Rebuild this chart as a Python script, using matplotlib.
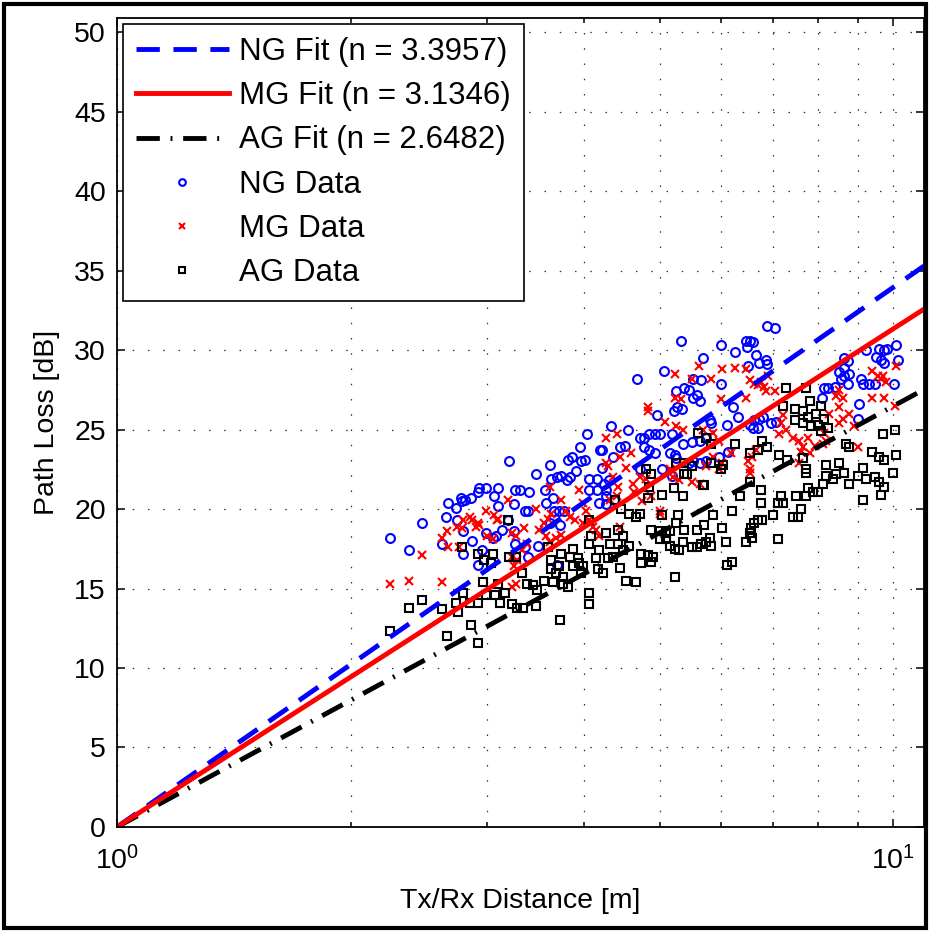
import numpy as np
import matplotlib
matplotlib.use("Agg")
import matplotlib.pyplot as plt
from matplotlib.patches import Rectangle
from matplotlib.ticker import LogLocator, NullFormatter

# ======================= DATA =======================
FIT_EXPONENTS = {"NG": 3.3957, "MG": 3.1346, "AG": 2.6482}

NG_DIST = [
    2.25, 2.38, 2.47, 2.62, 2.65, 2.67, 2.73, 2.77, 2.78, 2.81,
    2.86, 2.74, 2.79, 2.79, 2.87, 2.92, 2.93, 2.99, 3.06, 3.10,
    3.10, 3.20, 3.19, 3.13, 2.99, 2.95, 2.92, 3.08, 3.26, 3.30,
    3.39, 3.25, 3.35, 3.38, 3.25, 3.26, 3.35, 3.47, 3.56, 3.57,
    3.64, 3.61, 3.62, 3.69, 3.73, 3.80, 3.83, 3.81, 3.86, 3.95,
    4.03, 4.33, 4.19, 3.96, 4.01, 3.90, 4.06, 4.15, 4.21, 4.30,
    4.05, 4.15, 4.26, 3.65, 3.71, 3.77, 3.61, 3.72, 4.27, 4.37,
    3.38, 3.49, 3.69, 3.05,
    5.33, 6.88, 7.04, 6.00, 6.25, 6.45, 6.53, 6.59, 6.47, 6.65,
    6.72, 6.85, 6.87, 6.50, 5.69, 5.06, 5.66, 5.52, 6.00, 5.25,
    5.37, 5.45, 5.58, 5.52, 5.64, 5.26, 5.35, 5.21, 4.96, 6.22,
    6.31, 6.10, 5.82, 5.80, 6.61, 6.72, 6.79, 6.53, 6.59, 6.69,
    7.06, 6.96, 9.22, 9.58, 9.74, 9.80, 10.07, 10.13, 9.50, 9.64,
    9.74, 8.64, 8.75, 8.63, 8.52, 8.65, 8.78, 8.55, 8.75, 8.14,
    8.25, 8.42, 9.09, 9.13, 9.31, 9.46, 10.01, 8.10, 9.04, 9.01,
    4.71, 4.78, 4.85, 4.93, 5.00, 5.18, 5.36, 5.50, 5.63, 5.74,
    5.15, 5.23, 5.52, 5.63, 5.97, 6.12, 5.03, 4.67, 4.55, 4.21,
    4.35, 4.44, 4.51, 4.24, 4.27, 4.18, 4.78, 4.85, 4.93, 5.25,
    4.71, 5.18, 5.45, 5.74,
]
NG_LOSS = [
    18.2, 17.4, 19.1, 17.8, 19.5, 20.4, 20.1, 20.7, 20.5, 20.6,
    20.7, 19.3, 18.6, 17.2, 18.0, 21.1, 21.3, 21.3, 20.8, 21.3,
    20.2, 23.0, 19.3, 18.7, 18.5, 17.4, 16.5, 18.3, 21.2, 21.2,
    21.1, 20.3, 19.9, 19.9, 18.6, 17.8, 17.6, 22.2, 21.2, 20.4,
    20.7, 22.8, 21.9, 22.0, 22.1, 21.8, 22.0, 23.1, 23.3, 23.9,
    24.7, 25.2, 23.7, 23.0, 23.1, 22.4, 21.9, 21.9, 22.6, 21.8,
    21.2, 21.2, 21.2, 19.9, 19.9, 19.9, 19.1, 19.0, 20.3, 20.6,
    17.0, 17.7, 16.5, 18.2,
    30.6, 31.5, 31.4, 30.3, 29.9, 30.6, 30.6, 30.5, 30.2, 29.7,
    29.2, 29.4, 29.1, 29.0, 29.5, 28.7, 28.1, 28.2, 27.9, 27.4,
    27.6, 27.5, 27.2, 27.0, 26.8, 26.4, 26.3, 26.2, 25.9, 26.4,
    25.8, 25.3, 25.4, 25.6, 25.6, 25.7, 25.8, 25.3, 25.1, 25.1,
    25.5, 25.4, 30.0, 30.1, 30.0, 30.1, 30.3, 29.4, 29.6, 29.4,
    29.2, 29.5, 29.3, 28.9, 28.6, 28.4, 28.5, 28.2, 27.9, 27.6,
    27.6, 27.7, 28.2, 27.9, 27.9, 27.9, 27.9, 27.0, 26.6, 25.7,
    24.5, 24.5, 24.7, 24.7, 24.7, 24.7, 24.1, 24.2, 24.3, 24.5,
    23.5, 23.4, 23.0, 22.9, 23.3, 23.6, 22.5, 28.2, 25.0, 23.7,
    23.3, 23.9, 24.0, 21.6, 20.8, 20.4, 23.9, 23.7, 23.5, 23.2,
    22.5, 22.1, 22.9, 23.0,
]

MG_DIST = [
    2.25, 2.38, 2.47, 2.62, 2.62, 2.66, 2.67, 2.74, 2.76, 2.79,
    2.78, 2.85, 2.87, 2.92, 2.90, 2.93, 2.99, 3.06, 3.09, 3.10,
    3.00, 3.05, 3.19, 3.23, 3.27, 3.34, 3.23, 3.28, 3.25, 3.27,
    3.23, 3.32, 3.37, 3.46, 3.50, 3.55, 3.59, 3.62, 3.57, 3.61,
    3.68, 3.73, 3.61, 3.73, 3.79, 3.83, 3.89, 3.94, 3.98, 4.02,
    4.06, 3.98, 4.10, 4.18, 4.14, 4.29, 4.35, 4.42, 4.31, 4.40,
    5.62, 6.02, 6.26, 6.45, 5.23, 5.50, 5.83, 6.53, 6.61, 6.69,
    6.75, 6.82, 6.89, 6.85, 7.03, 5.24, 5.33, 6.00, 6.45, 4.83,
    4.83, 5.08, 5.25, 5.36, 5.69, 5.85, 5.97, 7.20, 7.28, 7.13,
    7.42, 7.57, 7.76, 7.64, 7.61, 7.80, 8.15, 8.19, 8.52, 8.44,
    8.61, 8.52, 8.78, 8.27, 8.52, 9.40, 9.55, 9.64, 9.79, 9.69,
    10.07, 9.40, 9.74, 10.04, 9.00, 8.61, 8.91, 7.92, 8.12, 4.27,
    4.40, 4.27, 4.44, 4.59, 4.53, 4.62, 4.71, 4.80, 4.64, 4.75,
    4.87, 5.00, 5.15, 5.20, 5.30, 5.50, 5.63, 5.74, 5.85, 6.02,
    6.18, 5.97, 6.49, 6.58, 6.53, 6.66, 7.17, 7.57, 4.44, 5.00,
    6.53,
]
MG_LOSS = [
    15.3, 15.5, 17.1, 15.4, 18.2, 18.6, 17.6, 18.9, 17.6, 19.3,
    18.8, 19.5, 19.3, 19.1, 18.9, 19.0, 19.9, 19.6, 19.3, 19.4,
    18.3, 18.1, 20.6, 18.5, 18.3, 18.8, 17.0, 16.8, 16.4, 15.3,
    15.1, 17.4, 17.8, 20.0, 18.7, 19.1, 19.4, 19.7, 18.3, 17.9,
    18.2, 18.4, 21.4, 20.6, 19.9, 19.5, 19.3, 21.2, 20.4, 19.9,
    19.3, 19.1, 18.9, 18.3, 18.7, 22.7, 22.0, 21.4, 20.6, 20.8,
    29.0, 28.8, 28.9, 28.8, 28.5, 28.2, 28.2, 28.1, 27.9, 27.8,
    28.0, 27.7, 28.4, 27.4, 27.4, 27.0, 26.9, 26.9, 27.0, 26.4,
    26.2, 25.5, 25.2, 25.0, 25.0, 24.8, 24.3, 25.9, 25.0, 24.7,
    24.5, 24.3, 24.5, 23.9, 23.6, 23.5, 24.8, 24.3, 27.5, 27.1,
    27.0, 26.4, 26.0, 26.0, 25.4, 28.7, 28.4, 28.2, 28.0, 28.4,
    29.0, 27.0, 27.0, 26.5, 23.9, 25.7, 25.2, 24.0, 24.1, 24.5,
    24.7, 22.9, 23.3, 23.5, 22.6, 21.6, 22.0, 21.9, 21.1, 20.5,
    20.8, 19.9, 22.5, 22.0, 21.8, 21.7, 21.6, 22.7, 23.3, 22.9,
    23.5, 22.5, 23.0, 23.3, 22.5, 23.7, 25.4, 22.9, 18.9, 19.7,
    22.3,
]

AG_DIST = [
    2.25, 2.38, 2.47, 2.62, 2.66, 2.73, 2.75, 2.78, 2.79, 2.85,
    2.92, 2.86, 2.92, 2.92, 2.97, 3.05, 3.03, 2.96, 2.99, 3.07,
    3.10, 3.11, 3.16, 3.19, 3.20, 3.27, 3.32, 3.23, 3.28, 3.33,
    3.37, 3.43, 3.48, 3.46, 3.59, 3.62, 3.62, 3.68, 3.71, 3.75,
    3.55, 3.64, 3.72, 3.73, 3.83, 3.87, 3.75, 3.81, 3.87, 3.94,
    3.98, 4.05, 4.08, 4.06, 4.06, 4.06, 4.18, 4.27, 4.31, 4.35,
    4.42, 4.16, 4.23, 3.96, 3.92, 4.14, 4.29, 4.49, 4.57, 4.44,
    4.53, 4.66, 4.42, 4.49, 4.57, 4.66, 4.71, 4.73, 4.83, 4.90,
    4.73, 4.87, 4.87, 5.00, 5.10, 5.15, 5.00, 5.10, 5.15, 5.23,
    5.30, 5.36, 5.03, 5.28, 5.38, 5.58, 5.71, 5.25, 5.50, 5.58,
    5.66, 5.74, 5.82, 5.80, 5.23, 5.86, 5.71, 4.83, 5.03, 5.21,
    5.36, 5.38, 5.68, 6.02, 6.08, 6.20, 6.11, 6.20, 6.34, 6.53,
    6.75, 6.75, 6.45, 6.53, 6.56, 6.62, 6.69, 6.78, 6.58, 7.10,
    7.00, 7.10, 7.17, 7.20, 7.42, 7.53, 7.61, 7.50, 7.72, 7.76,
    7.87, 7.99, 7.72, 8.11, 8.19, 8.35, 8.44, 8.65, 8.78, 9.00,
    9.13, 9.22, 9.46, 9.59, 9.64, 9.74, 9.98, 7.28, 7.72, 7.20,
    7.46, 7.64, 7.80, 8.07, 7.95, 8.15, 7.76, 7.46, 7.64, 7.83,
    7.99, 8.07, 8.23, 6.26, 6.53, 6.69, 6.78, 6.88, 7.13, 7.30,
    7.64, 7.72, 8.19, 8.52, 8.69, 8.78, 9.13, 9.40, 9.59, 9.74,
    9.69, 10.04, 10.09, 5.61, 5.74, 5.82, 5.25, 5.38, 5.50, 5.42,
    5.82, 6.04, 5.99, 4.80, 4.87, 4.85, 4.38, 4.46,
]
AG_LOSS = [
    12.3, 13.8, 14.3, 13.7, 12.0, 14.1, 13.5, 17.6, 14.7, 14.1,
    14.1, 12.7, 11.6, 17.2, 16.8, 17.2, 16.6, 15.4, 14.6, 14.6,
    15.3, 14.1, 14.7, 19.3, 17.0, 17.0, 16.0, 14.0, 13.8, 13.8,
    15.3, 15.2, 14.9, 13.9, 17.6, 16.8, 16.2, 16.0, 16.4, 15.7,
    15.5, 15.4, 13.0, 17.2, 17.0, 17.5, 15.3, 15.1, 16.4, 16.6,
    16.4, 19.3, 18.3, 17.8, 14.7, 14.0, 17.4, 18.5, 17.8, 17.0,
    17.8, 16.2, 16.0, 16.0, 16.9, 16.9, 16.9, 17.4, 17.7, 16.3,
    15.5, 15.4, 18.7, 18.3, 19.7, 19.5, 19.7, 17.2, 17.1, 17.0,
    16.6, 16.7, 18.7, 18.6, 18.5, 18.6, 18.1, 18.1, 17.7, 17.5,
    17.4, 17.9, 19.6, 19.6, 18.7, 18.7, 19.0, 19.1, 17.6, 17.6,
    17.8, 17.9, 17.7, 18.2, 15.7, 19.6, 21.5, 20.7, 20.9, 21.3,
    20.8, 22.2, 21.5, 18.8, 17.9, 19.9, 16.5, 16.7, 20.8, 21.7,
    21.2, 20.4, 17.9, 18.5, 18.8, 19.1, 19.3, 19.3, 18.2, 18.1,
    19.6, 20.4, 20.8, 20.4, 19.5, 19.5, 20.0, 20.8, 20.8, 21.3,
    21.1, 21.1, 22.3, 21.6, 22.1, 21.9, 22.2, 22.3, 21.6, 22.1,
    20.6, 21.9, 22.0, 21.7, 20.9, 21.4, 22.3, 27.6, 27.6, 26.5,
    26.3, 26.2, 26.8, 26.5, 26.0, 25.7, 25.8, 25.6, 25.4, 25.2,
    25.3, 24.9, 25.1, 24.1, 23.5, 23.7, 24.3, 23.9, 23.4, 23.1,
    23.2, 22.5, 22.8, 22.9, 24.1, 23.9, 22.6, 23.6, 23.3, 23.1,
    24.7, 25.0, 23.4, 24.8, 24.5, 24.1, 22.9, 22.9, 22.7, 22.2,
    22.9, 22.8, 22.5, 22.5, 22.2, 21.4, 20.6, 20.0,
]

X_LIMITS = (1, 10.95)
Y_LIMITS = (0, 50.9)
Y_TICKS = [0, 5, 10, 15, 20, 25, 30, 35, 40, 45, 50]

# ======================= STYLE =======================
plt.rcParams["font.family"] = ["Liberation Sans", "DejaVu Sans"]
plt.rcParams["mathtext.fontset"] = "custom"
plt.rcParams["mathtext.rm"] = "Liberation Sans"
plt.rcParams["mathtext.default"] = "regular"

TICK_FONT_SIZE = 20.5
LABEL_FONT_SIZE = 20.5
LEGEND_FONT_SIZE = 22.5
FIT_LW = 3.5

fig = plt.figure(figsize=(9.30, 9.32), dpi=100)
ax = fig.add_axes([0.1258, 0.1127, 0.8677, 0.868])

# fitted path loss lines: PL = 10 n log10(d)
d_fit = np.logspace(0, np.log10(X_LIMITS[1]), 200)
ax.plot(d_fit, 10 * FIT_EXPONENTS["NG"] * np.log10(d_fit), color="#0000ff",
        lw=FIT_LW, ls=(0, (4.8, 2.8)), zorder=5,
        label=f"NG Fit (n = {FIT_EXPONENTS['NG']:.4f})")
ax.plot(d_fit, 10 * FIT_EXPONENTS["MG"] * np.log10(d_fit), color="#ff0000",
        lw=FIT_LW, ls="-", zorder=6,
        label=f"MG Fit (n = {FIT_EXPONENTS['MG']:.4f})")
ax.plot(d_fit, 10 * FIT_EXPONENTS["AG"] * np.log10(d_fit), color="black",
        lw=FIT_LW, ls=(0, (4.8, 2.2, 0.4, 2.2)), zorder=5,
        label=f"AG Fit (n = {FIT_EXPONENTS['AG']:.4f})")

# measured data
ax.plot(NG_DIST, NG_LOSS, ls="none", marker="o", ms=6.4, mfc="none",
        mec="#0000ff", mew=1.5, zorder=3, label="NG Data")
ax.plot(MG_DIST, MG_LOSS, ls="none", marker="x", ms=5.6,
        mec="#ff0000", mew=1.5, zorder=3, label="MG Data")
ax.plot(AG_DIST, AG_LOSS, ls="none", marker="s", ms=5.2, mfc="none",
        mec="black", mew=1.5, zorder=3, label="AG Data")

ax.set_xscale("log")
ax.set_xlim(*X_LIMITS)
ax.set_ylim(*Y_LIMITS)
ax.set_yticks(Y_TICKS)
ax.xaxis.set_major_locator(LogLocator(base=10, numticks=5))
ax.xaxis.set_minor_locator(LogLocator(base=10, subs=np.arange(2, 10), numticks=10))
ax.xaxis.set_minor_formatter(NullFormatter())

ax.grid(True, which="major", axis="both", color="0.2",
        ls=(0, (1.2, 11)), lw=0.9)
ax.grid(True, which="minor", axis="x", color="0.2",
        ls=(0, (1.2, 11)), lw=0.9)
ax.set_axisbelow(True)

ax.tick_params(which="both", direction="in", top=True, right=True,
               labelsize=TICK_FONT_SIZE, width=1.1, color="black")
ax.tick_params(which="major", length=6)
ax.tick_params(which="minor", length=3.5)
ax.tick_params(axis="y", pad=8)
ax.tick_params(axis="x", pad=14)
for sp in ax.spines.values():
    sp.set_linewidth(1.3)
    sp.set_zorder(10)

ax.set_xlabel("Tx/Rx Distance [m]", fontsize=LABEL_FONT_SIZE, labelpad=9)
ax.set_ylabel("Path Loss [dB]", fontsize=LABEL_FONT_SIZE, labelpad=10)

leg = ax.legend(loc="upper left", bbox_to_anchor=(0.0, 1.0),
                borderaxespad=0.2, fontsize=LEGEND_FONT_SIZE, numpoints=1,
                handlelength=2.95, handletextpad=0.35, labelspacing=0.45,
                borderpad=0.42, fancybox=False, framealpha=1.0,
                edgecolor="black", markerscale=0.75)
leg.get_frame().set_linewidth(1.2)
leg.set_zorder(20)

# outer frame around the whole picture
fig.patches.append(Rectangle((0.004, 0.004), 0.992, 0.992,
                             transform=fig.transFigure, fill=False,
                             lw=3, ec="black"))

fig.savefig("out.png", dpi=100)
